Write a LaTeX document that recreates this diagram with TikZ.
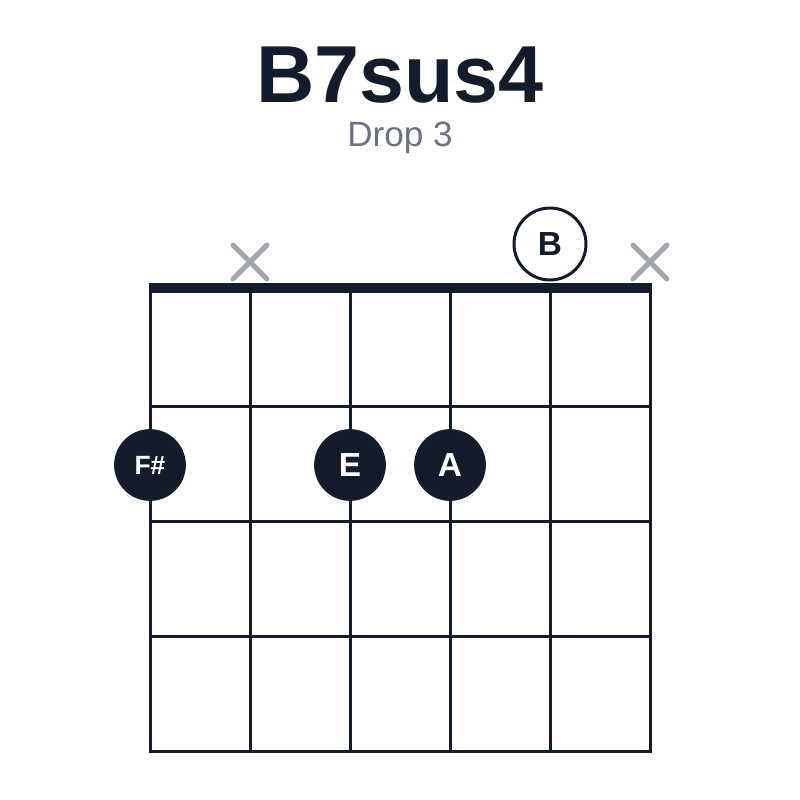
\documentclass[tikz,border=0pt]{standalone}
\usepackage{fontspec}
\setmainfont{Liberation Sans}
\usepackage{tikz}
\definecolor{ink}{HTML}{141B2A}
\definecolor{mutegray}{HTML}{A2A6AE}
\definecolor{subgray}{HTML}{6B7280}
\tikzset{
	grid/.style={draw=ink, line width=0.06cm},
	fretnote/.style={shape=circle, fill=ink, draw=ink, inner sep=0, minimum size=1.42cm, text=white},
	opennote/.style={shape=circle, fill=white, draw=ink, line width=0.06cm, inner sep=0, minimum size=1.44cm, text=ink},
	mute/.style={draw=mutegray, line width=0.1cm, line cap=round}
}
\begin{document}
\begin{tikzpicture}[x=0.02cm, y=-0.02cm]
			\useasboundingbox[fill=white] (0,0) rectangle (800,800);
			% Title and subtitle:
			\node[anchor=base, text=ink, font=\bfseries\fontsize{46}{50}\selectfont] (Title) at (400,103) {B7sus4};
			\node[anchor=base, text=subgray, font=\fontsize{20}{24}\selectfont] (Subtitle) at (400,147) {Drop 3};
			% Strings, frets and nut:
			\foreach \x in {150,250,...,650} \draw[grid] (\x,288) -- (\x,751);
			\foreach \y in {406,521,636,751} \draw[grid] (148.5,\y) -- (651.5,\y);
			% Muted strings:
			\foreach \x in {250,650} \draw[mute] (\x-17,245) -- (\x+17,279) (\x-17,279) -- (\x+17,245);
			% Notes:
			\node[opennote, font=\bfseries\fontsize{19}{22}\selectfont](NoteB) at (550,244){B};
			\draw[ink, line width=0.21cm] (148.5,288) -- (651.5,288);
			\node[fretnote, font=\bfseries\fontsize{15}{18}\selectfont](NoteFs) at (150,465){F\#};
			\node[fretnote, font=\bfseries\fontsize{19}{22}\selectfont](NoteE) at (350,465){E};
			\node[fretnote, font=\bfseries\fontsize{19}{22}\selectfont](NoteA) at (450,465){A};
		\end{tikzpicture}
\end{document}
